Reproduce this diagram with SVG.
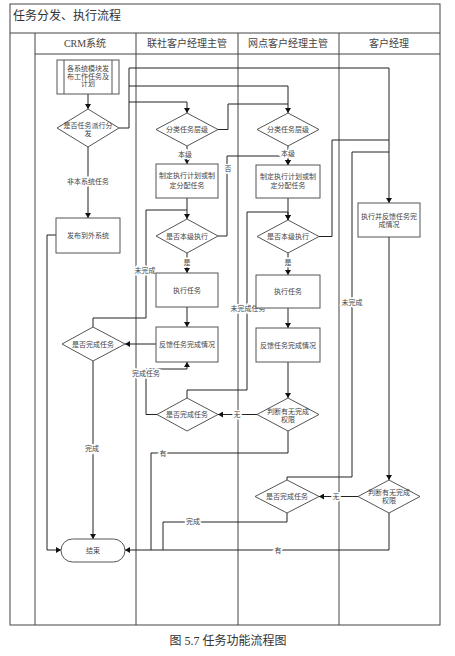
<svg xmlns="http://www.w3.org/2000/svg" width="455" height="656" viewBox="0 0 455 656">
<defs>
<marker id="arr" markerUnits="userSpaceOnUse" markerWidth="6" markerHeight="6" refX="5" refY="3" orient="auto">
<path d="M0,0 L5,3 L0,6 z" fill="#111"/>
</marker>
<style>
.frame{fill:none;stroke:#444;stroke-width:1}
.node rect,.node polygon,.node line{fill:#fff;stroke:#555;stroke-width:1}
.node text{font-family:"Liberation Serif","Noto Sans CJK SC",serif;font-size:7px;fill:#444;text-anchor:middle}
.conn path{fill:none;stroke:#222;stroke-width:1}
.conn path.a{marker-end:url(#arr)}
.lbl{font-family:"Liberation Serif","Noto Sans CJK SC",serif;font-size:7px;fill:#444;text-anchor:middle;stroke:#fff;stroke-width:3;paint-order:stroke}
.hdr{font-family:"Liberation Serif","Noto Sans CJK SC",serif;font-size:10px;fill:#444;text-anchor:middle}
</style>
</defs>
<rect width="455" height="656" fill="#fff"/>
<g id="frame">
<rect class="frame" x="10" y="4" width="430" height="621"/>
<line class="frame" x1="10" y1="33" x2="440" y2="33"/>
<line class="frame" x1="35" y1="54" x2="440" y2="54"/>
<line class="frame" x1="35" y1="33" x2="35" y2="625"/>
<line class="frame" x1="136" y1="33" x2="136" y2="625"/>
<line class="frame" x1="238" y1="33" x2="238" y2="625"/>
<line class="frame" x1="339" y1="33" x2="339" y2="625"/>
<text x="13" y="20" style="font-family:'Liberation Serif','Noto Sans CJK SC',serif;font-size:12px;fill:#333">任务分发、执行流程</text>
<text class="hdr" x="85" y="47">CRM系统</text>
<text class="hdr" x="187" y="47">联社客户经理主管</text>
<text class="hdr" x="288" y="47">网点客户经理主管</text>
<text class="hdr" x="389" y="47">客户经理</text>
</g>
<g class="conn" id="connectors">
<path class="a" d="M88,94 V109"/>
<path class="a" d="M88,147 V218"/>
<path class="a" d="M119,128 H129 V68 H389 V203"/>
<path class="a" d="M129,86 H288 V113"/>
<path class="a" d="M129,102 H187 V113"/>
<path d="M218,129.5 H228 V104 H288"/>
<path class="a" d="M187,146 V164"/>
<path class="a" d="M187,198 V219"/>
<path class="a" d="M218,236 H227 V156 H288 V165"/>
<path class="a" d="M187,253 V273"/>
<path class="a" d="M187,307 V327"/>
<path class="a" d="M156,344 H125"/>
<path d="M93,327 V318 H146 V210 H187"/>
<path class="a" d="M93,361 V539"/>
<path class="a" d="M56,235 H47 V550 H61"/>
<path class="a" d="M157,414.5 H146 V369 H187 V362"/>
<path class="a" d="M187,398 V390 H247 V212 H288 V220"/>
<path class="a" d="M257,414.5 H218"/>
<path d="M288,431 V453 H151 V550"/>
<path class="a" d="M389,513 V550 H125"/>
<path d="M287,513 V522 H163 V550"/>
<path d="M287,480 V477 H352 V152 H389"/>
<path d="M319,236.5 H332 V140 H389"/>
<path class="a" d="M288,146 V165"/>
<path class="a" d="M288,198 V220"/>
<path class="a" d="M288,253 V275"/>
<path class="a" d="M288,308 V328"/>
<path class="a" d="M288,362 V398"/>
<path class="a" d="M389,237 V480"/>
<path class="a" d="M358,496.5 H319"/>
</g>
<g id="labels">
<text class="lbl" x="88" y="184">非本系统任务</text>
<text class="lbl" x="185" y="156.5">本级</text>
<text class="lbl" x="288" y="156">本级</text>
<text class="lbl" x="228" y="170.5">否</text>
<text class="lbl" x="187" y="264.5">是</text>
<text class="lbl" x="288" y="264.5">是</text>
<text class="lbl" x="145" y="272.5">未完成</text>
<text class="lbl" x="248" y="310.5">未完成任务</text>
<text class="lbl" x="352" y="304.5">未完成</text>
<text class="lbl" x="146" y="375.5">完成任务</text>
<text class="lbl" x="237" y="417">无</text>
<text class="lbl" x="336" y="499">无</text>
<text class="lbl" x="92" y="450.5">完成</text>
<text class="lbl" x="163" y="455.5">有</text>
<text class="lbl" x="193" y="524">完成</text>
<text class="lbl" x="278" y="552.5">有</text>
</g>
<g class="node" id="n_publish">
<rect x="57" y="60" width="62" height="34"/>
<line x1="64" y1="60" x2="64" y2="94"/>
<line x1="112" y1="60" x2="112" y2="94"/>
<text x="88" y="70.5">各系统模块发</text>
<text x="88" y="78.5">布工作任务及</text>
<text x="88" y="86">计划</text>
</g>
<g class="node" id="n_dispatch">
<polygon points="57,128 88,109 119,128 88,147"/>
<text x="88" y="127.5">是否任务派行分</text>
<text x="88" y="136">发</text>
</g>
<g class="node" id="n_external">
<rect x="56" y="218" width="64" height="35"/>
<text x="88" y="238">发布到外系统</text>
</g>
<g class="node" id="n_crm_done">
<polygon points="62,344 93,327 125,344 93,361"/>
<text x="93" y="346.5">是否完成任务</text>
</g>
<g class="node" id="n_end">
<rect x="61" y="539" width="64" height="23" rx="11.5"/>
<text x="93" y="553">结束</text>
</g>
<g class="node" id="n_ls_level">
<polygon points="156,129.5 187,113 218,129.5 187,146"/>
<text x="187" y="132">分类任务层级</text>
</g>
<g class="node" id="n_ls_plan">
<rect x="156" y="164" width="62" height="34"/>
<text x="187" y="178">制定执行计划或制</text>
<text x="187" y="187.5">定分配任务</text>
</g>
<g class="node" id="n_ls_self">
<polygon points="156,236 187,219 218,236 187,253"/>
<text x="187" y="238.5">是否本级执行</text>
</g>
<g class="node" id="n_ls_exec">
<rect x="156" y="273" width="62" height="34"/>
<text x="187" y="292.5">执行任务</text>
</g>
<g class="node" id="n_ls_fb">
<rect x="156" y="327" width="62" height="35"/>
<text x="187" y="347">反馈任务完成情况</text>
</g>
<g class="node" id="n_ls_done">
<polygon points="157,414.5 187,398 218,414.5 187,431"/>
<text x="187" y="417">是否完成任务</text>
</g>
<g class="node" id="n_wd_level">
<polygon points="257,129.5 288,113 319,129.5 288,146"/>
<text x="288" y="132">分类任务层级</text>
</g>
<g class="node" id="n_wd_plan">
<rect x="256" y="165" width="64" height="33"/>
<text x="288" y="178.5">制定执行计划或制</text>
<text x="288" y="188">定分配任务</text>
</g>
<g class="node" id="n_wd_self">
<polygon points="257,236.5 288,220 319,236.5 288,253"/>
<text x="288" y="239">是否本级执行</text>
</g>
<g class="node" id="n_wd_exec">
<rect x="256" y="275" width="64" height="33"/>
<text x="288" y="294">执行任务</text>
</g>
<g class="node" id="n_wd_fb">
<rect x="256" y="328" width="64" height="34"/>
<text x="288" y="347.5">反馈任务完成情况</text>
</g>
<g class="node" id="n_wd_perm">
<polygon points="257,414.5 288,398 319,414.5 288,431"/>
<text x="288" y="413.5">判断有无完成</text>
<text x="288" y="421.5">权限</text>
</g>
<g class="node" id="n_wd_done">
<polygon points="255,496.5 287,480 319,496.5 287,513"/>
<text x="287" y="499">是否完成任务</text>
</g>
<g class="node" id="n_km_exec">
<rect x="358" y="203" width="62" height="34"/>
<text x="389" y="218.5">执行并反馈任务完</text>
<text x="389" y="226.5">成情况</text>
</g>
<g class="node" id="n_km_perm">
<polygon points="358,496.5 389,480 420,496.5 389,513"/>
<text x="389" y="494.5">判断有无完成</text>
<text x="389" y="502.5">权限</text>
</g>
<text x="228" y="645" style="font-family:'Liberation Serif','Noto Sans CJK SC',serif;font-size:12px;fill:#333;text-anchor:middle">图 5.7  任务功能流程图</text>
</svg>
